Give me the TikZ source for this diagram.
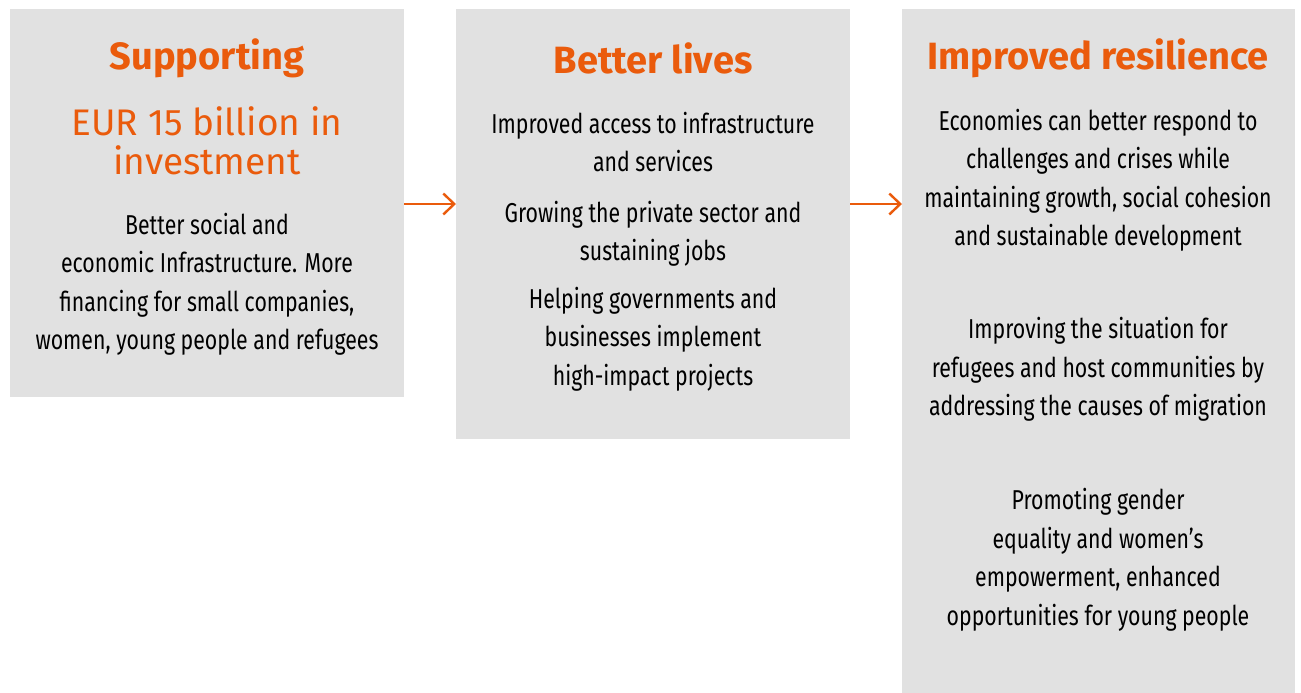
\documentclass[tikz,border=0pt]{standalone}
\usepackage{fontspec}
\setmainfont{Fira Sans}
\newfontfamily\condfont[FakeStretch=0.78]{Fira Sans}
\usetikzlibrary{arrows.meta}
\definecolor{panelgray}{HTML}{E1E1E1}
\definecolor{accent}{HTML}{EA5B0C}
\begin{document}
\begin{tikzpicture}[x=1pt,y=-1pt,
  panel/.style={fill=panelgray,draw=none},
  heading/.style={text=accent,font=\fontsize{38}{44}\selectfont\bfseries,inner sep=0pt},
  figure/.style={text=accent,font=\fontsize{37}{39.5}\selectfont,align=center,inner sep=0pt},
  body/.style={text=black,font=\condfont\fontsize{27.3}{38.5}\selectfont,align=center,inner sep=0pt},
  flow/.style={draw=accent,line width=2.4pt,-{Straight Barb[length=11pt,width=21pt,line width=2.4pt]}}]
\useasboundingbox (0,0) rectangle (1301,693);
% three panels
\fill[panel] (10,9) rectangle (404,397);
\fill[panel] (456,9) rectangle (850,439);
\fill[panel] (902,9) rectangle (1295,693);
\coordinate (p1e) at (404,204);
\coordinate (p2w) at (456,204);
\coordinate (p2e) at (850,204);
\coordinate (p3w) at (902,204);
% column 1
\node[heading] (h1) at (207,58) {Supporting};
\node[figure] (f1) at (207,141) {EUR 15 billion in\\investment};
\node[body] (b1) at (207,284.5) {Better social and\\economic Infrastructure. More\\financing for small companies,\\women, young people and refugees};
% column 2
\node[heading] (h2) at (653,58) {Better lives};
\node[body] (b2a) at (653,142) {Improved access to infrastructure\\and services};
\node[body] (b2b) at (653,234) {Growing the private sector and\\sustaining jobs};
\node[body] (b2c) at (653,339) {Helping governments and\\businesses implement\\high-impact projects};
% column 3
\node[heading] (h3) at (1098,58) {Improved resilience};
\node[body] (b3a) at (1098,180.5) {Economies can better respond to\\challenges and crises while\\maintaining growth, social cohesion\\and sustainable development};
\node[body] (b3b) at (1098,369.5) {Improving the situation for\\refugees and host communities by\\addressing the causes of migration};
\node[body] (b3c) at (1098,560) {Promoting gender\\equality and women’s\\empowerment, enhanced\\opportunities for young people};
% arrows between panels
\draw[flow] (p1e) -- (p2w);
\draw[flow] (p2e) -- (p3w);
\end{tikzpicture}
\end{document}
